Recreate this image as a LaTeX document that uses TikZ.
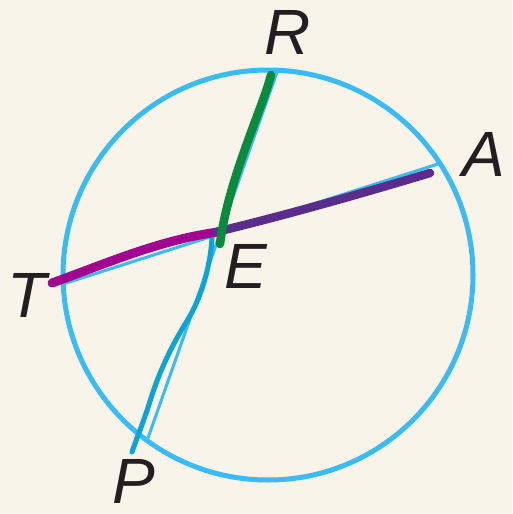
\documentclass[tikz,border=0pt]{standalone}
\usepackage{fontspec}
\setmainfont{Liberation Sans}
\definecolor{bg}{HTML}{F8F4EA}
\definecolor{circblue}{HTML}{3BBBF3}
\definecolor{handblue}{HTML}{0BA3D9}
\definecolor{dgreen}{HTML}{0A8A3C}
\definecolor{dpurple}{HTML}{5A2D8C}
\definecolor{dmagenta}{HTML}{A1058F}
\definecolor{ink}{HTML}{231F20}
\begin{document}
\begin{tikzpicture}[x=1pt,y=-1pt,
  lbl/.style={font=\fontsize{64}{64}\selectfont\itshape, text=ink, inner sep=0pt},
  chord/.style={draw=circblue, line width=3pt},
  hand/.style={line width=#1, line cap=round, line join=round},
  hand/.default=8pt]
\fill[bg] (0,0) rectangle (512,514);
\useasboundingbox (0,0) rectangle (512,514);
\coordinate (O) at (268,275);
\coordinate (T) at (63,284);
\coordinate (A) at (438,164);
\coordinate (P) at (148,438);
\coordinate (R) at (277,72);
\draw[circblue, line width=5pt] (O) circle[radius=205];
\draw[chord] (T) -- (A);
\draw[chord] (P) -- (R);
% hand-drawn strokes
\draw[handblue, hand=5pt] (212,238) .. controls (210,270) and (200,300) .. (187,321)
  .. controls (172,345) and (160,370) .. (151,398)
  .. controls (145,418) and (136,440) .. (132,452);
\draw[dmagenta, hand=9pt] (52,283) .. controls (110,262) and (160,240) .. (218,232);
\draw[dpurple, hand=8.5pt] (216,232) .. controls (290,214) and (360,194) .. (430,173);
\draw[dgreen, hand=8.5pt] (271,75) .. controls (262,110) and (228,180) .. (220,244);
% labels
\node[lbl] (lR) at (288,32) {R};
\node[lbl] (lA) at (484,154) {A};
\node[lbl] (lT) at (27,295) {T};
\node[lbl] (lE) at (246,266) {E};
\node[lbl] (lP) at (134,481) {P};
\end{tikzpicture}
\end{document}
